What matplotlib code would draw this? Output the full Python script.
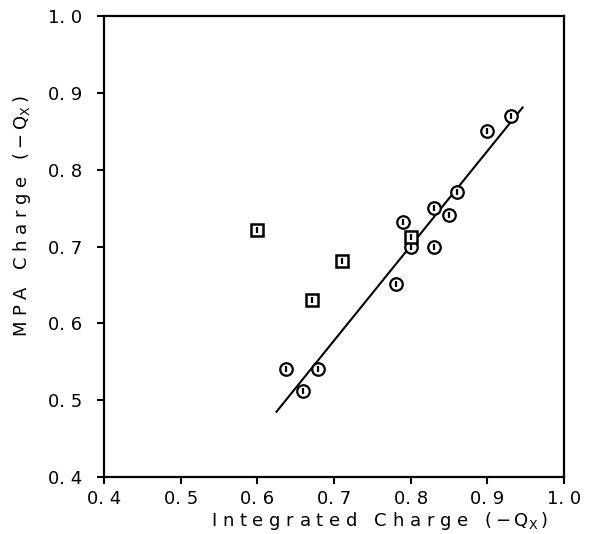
import matplotlib
matplotlib.use("Agg")
import matplotlib.pyplot as plt

# circles: integrated charge vs MPA charge
circ_x = [0.638, 0.659, 0.679, 0.781, 0.790, 0.800, 0.830, 0.830, 0.850, 0.860, 0.900, 0.931]
circ_y = [0.541, 0.512, 0.541, 0.651, 0.732, 0.700, 0.750, 0.700, 0.741, 0.771, 0.850, 0.870]

# squares
sq_x = [0.600, 0.671, 0.711, 0.800]
sq_y = [0.722, 0.630, 0.681, 0.712]

# fitted line end points
fit_x = [0.625, 0.946]
fit_y = [0.485, 0.881]

ticks = [0.4, 0.5, 0.6, 0.7, 0.8, 0.9, 1.0]
tick_labels = ["0. 4", "0. 5", "0. 6", "0. 7", "0. 8", "0. 9", "1. 0"]

def spaced(s):
    return " ".join(s)

qx = "(\u2009\u2212\u2009Q$_{\\mathregular{X}}$\u2009)"

fig = plt.figure(figsize=(5.99, 5.34), dpi=100)
ax = fig.add_axes([0.1736, 0.1067, 0.768, 0.8633])

ax.plot(fit_x, fit_y, color="black", lw=1.5)
ax.plot(circ_x, circ_y, "o", ms=9, mfc="white", mec="black", mew=1.6, ls="none")
ax.plot(circ_x, circ_y, "|", ms=5, mec="black", mew=1.6, ls="none")
ax.plot(sq_x, sq_y, "s", ms=9, mfc="white", mec="black", mew=1.8, ls="none")
ax.plot(sq_x, sq_y, "|", ms=5, mec="black", mew=1.6, ls="none")

ax.set_xlim(0.4, 1.0)
ax.set_ylim(0.4, 1.0)
ax.set_xticks(ticks)
ax.set_yticks(ticks)
ax.set_xticklabels(tick_labels)
ax.set_yticklabels(tick_labels)
ax.tick_params(direction="out", length=5, width=1.5, labelsize=13)
ax.tick_params(axis="x", pad=4)
ax.tick_params(axis="y", pad=11)

for s in ax.spines.values():
    s.set_linewidth(1.6)

ax.set_xlabel(spaced("Integrated") + "   " + spaced("Charge") + "   " + qx, fontsize=13)
ax.set_ylabel(spaced("MPA") + "   " + spaced("Charge") + "   " + qx, fontsize=13)
ax.xaxis.set_label_coords(0.60, -0.072)
ax.yaxis.set_label_coords(-0.155, 0.567)

fig.savefig("out.png", dpi=100)
